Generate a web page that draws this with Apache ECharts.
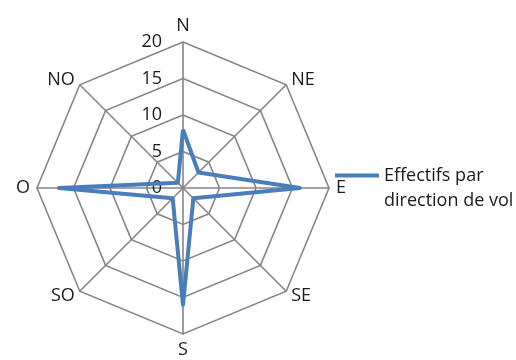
<!DOCTYPE html>
<html>
<head>
<meta charset="utf-8">
<script src="https://cdn.jsdelivr.net/npm/echarts@6/dist/echarts.min.js"></script>
<style>
html,body{margin:0;padding:0;background:#fff;}
#c{width:516px;height:360px;}
</style>
</head>
<body>
<div id="c"></div>
<script>
// Directions listed counterclockwise starting from North (ECharts radar order)
var directions = ['N', 'NO', 'O', 'SO', 'S', 'SE', 'E', 'NE'];
var effectifs = [8, 1, 17, 2, 16, 2, 16, 3];
var seriesName = 'Effectifs par\ndirection de vol';
var axisMax = 20;
var tickLabels = ['0', '5', '10', '15', '20'];

var FONT = 'Open Sans';
var TXT = '#1a1a1a';
var chart = echarts.init(document.getElementById('c'), null, {renderer: 'canvas'});

var indicators = directions.map(function (d, i) {
  var o = {name: d, max: axisMax, min: 0};
  if (i === 0) o.axisLabel = {show: true};
  return o;
});

chart.setOption({
  animation: false,
  backgroundColor: '#fff',
  legend: {
    left: 330,
    top: 133,
    selectedMode: false,
    icon: 'rect',
    itemWidth: 44,
    itemHeight: 4,
    itemStyle: {borderWidth: 0},
    formatter: function (name) { return '\n' + name; },
    textStyle: {
      fontFamily: FONT,
      fontSize: 18,
      color: TXT,
      lineHeight: 25
    },
    data: [seriesName]
  },
  radar: {
    center: [183, 188],
    radius: 146,
    startAngle: 90,
    splitNumber: 4,
    shape: 'polygon',
    indicator: indicators,
    axisName: {
      color: TXT,
      fontFamily: FONT,
      fontSize: 18
    },
    nameGap: 7,
    splitArea: {show: false},
    splitLine: {lineStyle: {color: '#868686', width: 1.6}},
    axisLine: {lineStyle: {color: '#868686', width: 1.6}},
    axisTick: {show: false},
    axisLabel: {
      show: false,
      color: TXT,
      fontFamily: FONT,
      fontSize: 18,
      margin: 21,
      formatter: function (v) {
        var idx = Math.round(v / 5);
        return tickLabels[idx] !== undefined ? tickLabels[idx] : '';
      }
    }
  },
  series: [{
    type: 'radar',
    name: seriesName,
    symbol: 'none',
    lineStyle: {color: '#4a7ebb', width: 4, join: 'round'},
    itemStyle: {color: '#4a7ebb'},
    data: [{value: effectifs, name: seriesName}]
  }]
});
</script>
</body>
</html>
